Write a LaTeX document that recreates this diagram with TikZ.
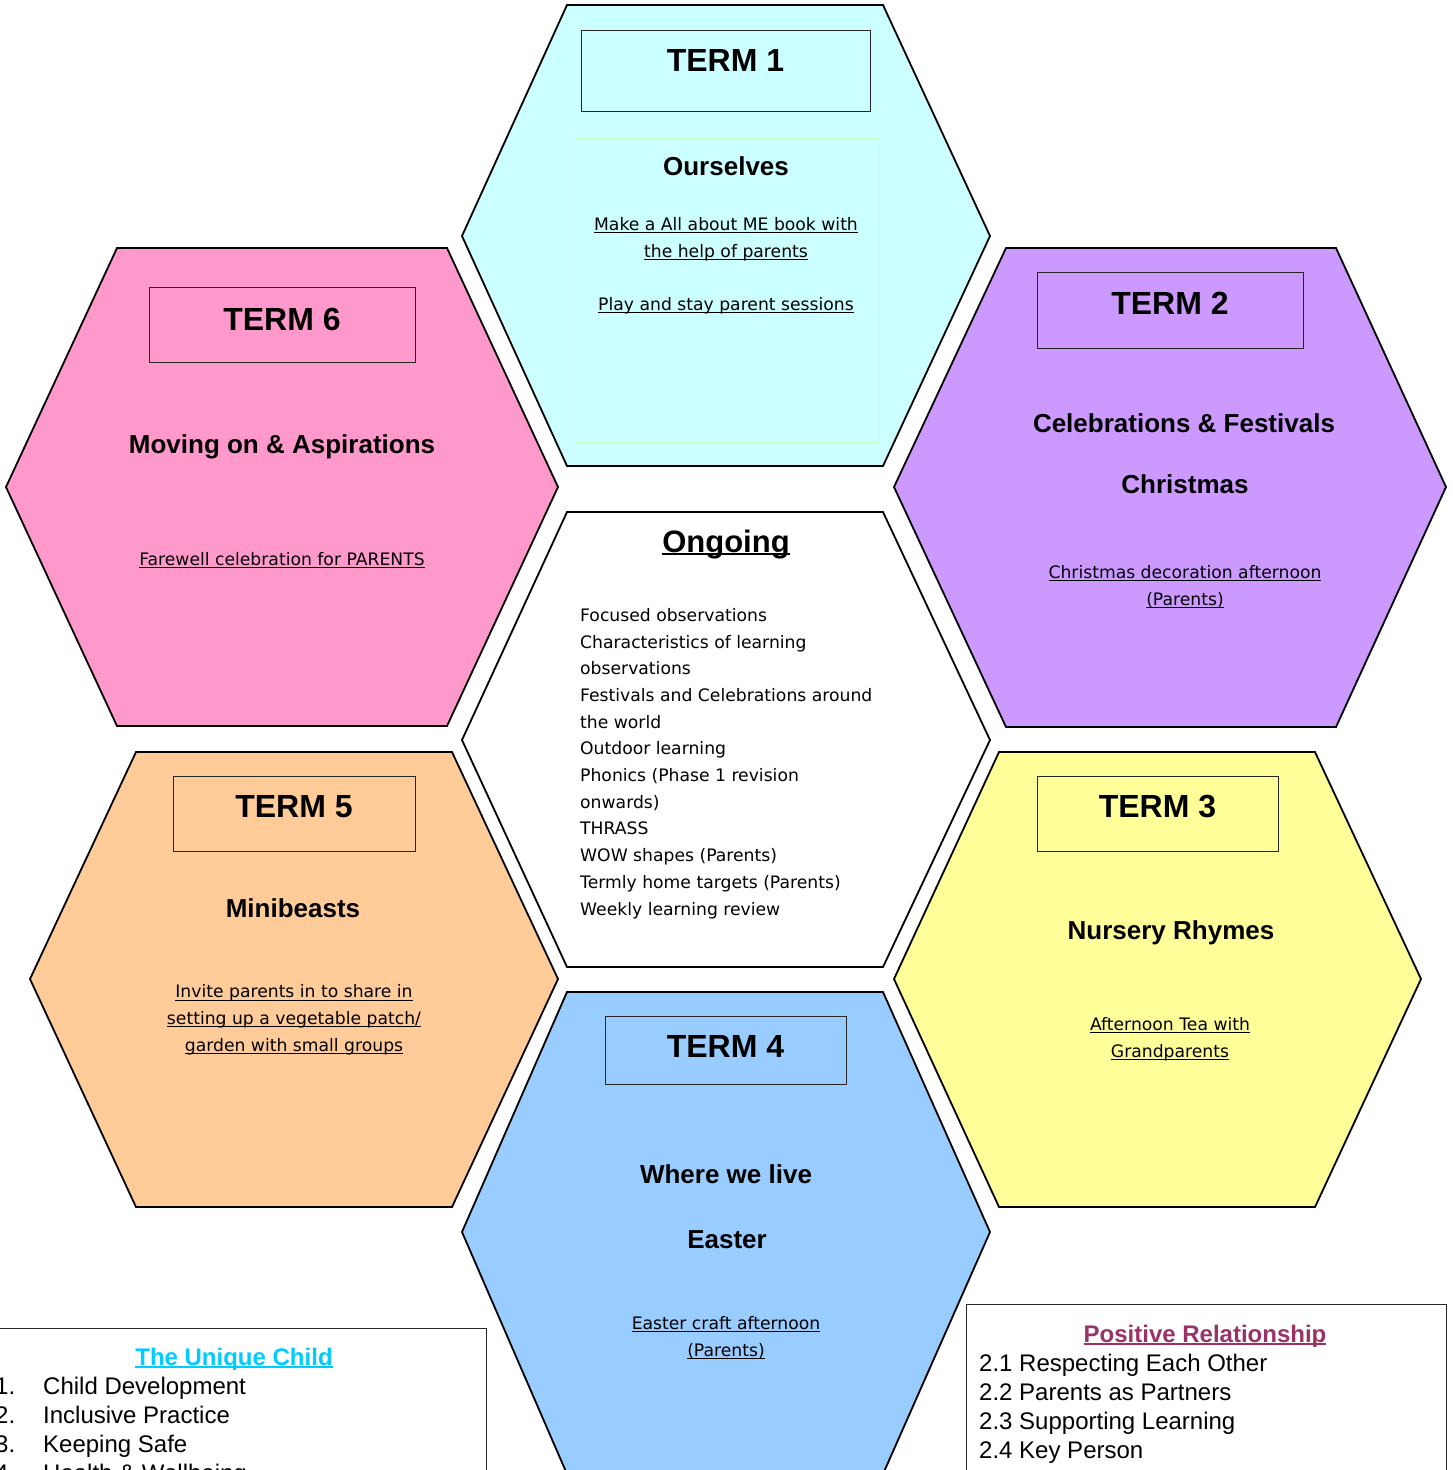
\documentclass[tikz,border=0pt]{standalone}
\usepackage{fontspec}
\setmainfont{Liberation Sans}
\newfontfamily\comicfont{DejaVu Sans}
\usetikzlibrary{positioning}
\definecolor{termone}{HTML}{CCFFFF}
\definecolor{termtwo}{HTML}{CC99FF}
\definecolor{termthree}{HTML}{FFFF99}
\definecolor{termfour}{HTML}{99CCFF}
\definecolor{termfive}{HTML}{FFCC99}
\definecolor{termsix}{HTML}{FF99CC}
\definecolor{innergreen}{HTML}{CCFFCC}
\definecolor{uniqueblue}{HTML}{00CCFF}
\definecolor{relplum}{HTML}{993366}
% underlined text, rule just under the baseline
\newcommand{\undl}[2][1pt]{\setbox0=\hbox{#2}\rlap{\rule[-3pt]{\wd0}{#1}}\box0}
\tikzset{
  hexa/.style={draw=black, line width=1.8pt, line join=miter},
  termbox/.style={draw=black!85, line width=1pt, inner sep=0pt},
  termlbl/.style={font=\fontsize{32}{36}\selectfont\bfseries, anchor=base, inner sep=0pt},
  topic/.style={font=\fontsize{26}{30}\selectfont\bfseries, anchor=base, inner sep=0pt},
  event/.style={font=\comicfont\fontsize{17.2}{26.7}\selectfont, anchor=base, align=center, inner sep=0pt},
  panel/.style={draw=black!85, line width=1pt},
  keytitle/.style={font=\fontsize{24}{28}\selectfont\bfseries, anchor=base, inner sep=0pt},
  keylist/.style={font=\fontsize{24}{28.8}\selectfont, anchor=base west, align=left, inner sep=0pt}
}
\begin{document}
\begin{tikzpicture}[x=1pt,y=-1pt]
\useasboundingbox (0,0) rectangle (1452,1470);
\fill[white] (0,0) rectangle (1452,1470);
% the seven cells
\draw[hexa, fill=termone] (567,5) -- (883,5) -- (990,236) -- (883,466) -- (567,466) -- (462,236) -- cycle;
\draw[hexa, fill=white] (567,512) -- (883,512) -- (990,740) -- (883,967) -- (567,967) -- (462,740) -- cycle;
\draw[hexa, fill=termfour] (567,992) -- (883,992) -- (990,1232) -- (883,1474) -- (567,1474) -- (462,1232) -- cycle;
\draw[hexa, fill=termsix] (117,248) -- (447,248) -- (558,487) -- (447,726) -- (117,726) -- (6,487) -- cycle;
\draw[hexa, fill=termtwo] (1006,248) -- (1336,248) -- (1446,487) -- (1336,727) -- (1006,727) -- (894,487) -- cycle;
\draw[hexa, fill=termfive] (136,752) -- (452,752) -- (558,979) -- (452,1207) -- (136,1207) -- (30,979) -- cycle;
\draw[hexa, fill=termthree] (999,752) -- (1315,752) -- (1421,979) -- (1315,1207) -- (999,1207) -- (894,979) -- cycle;
\draw[draw=innergreen, line width=1pt] (573,138) rectangle (879,442);

% term boxes
\node[termbox, minimum width=289pt, minimum height=81pt] (t1box) at (725.5,70.5) {};
\node[termbox, minimum width=266pt, minimum height=75pt] (t6box) at (282,324.5) {};
\node[termbox, minimum width=266pt, minimum height=76pt] (t2box) at (1170,310) {};
\node[termbox, minimum width=242pt, minimum height=75pt] (t5box) at (294,813.5) {};
\node[termbox, minimum width=241pt, minimum height=75pt] (t3box) at (1157.5,813.5) {};
\node[termbox, minimum width=241pt, minimum height=68pt] (t4box) at (725.5,1050) {};
\node[termlbl] (t1) at ([yshift=-42pt]t1box.north) {TERM 1};
\node[termlbl] (t6) at ([yshift=-44pt]t6box.north) {TERM 6};
\node[termlbl] (t2) at ([yshift=-43pt]t2box.north) {TERM 2};
\node[termlbl] (t5) at ([yshift=-42pt]t5box.north) {TERM 5};
\node[termlbl] (t3) at ([yshift=-42pt]t3box.north) {TERM 3};
\node[termlbl] (t4) at ([yshift=-42pt]t4box.north) {TERM 4};

% topics
\node[topic] (ourselves) at (726,175) {Ourselves};
\node[topic] (moving) at (282,453) {Moving on \& Aspirations};
\node[topic] (celebr) at (1184,432) {Celebrations \& Festivals};
\node[topic] (xmas) at (1185,493) {Christmas};
\node[topic] (minib) at (293,917) {Minibeasts};
\node[topic] (rhymes) at (1171,939) {Nursery Rhymes};
\node[topic] (wherelive) at (726,1183) {Where we live};
\node[topic] (easter) at (727,1248) {Easter};

% parent events (base = last line)
\node[event] (aboutme) at (726,257) {\undl{Make a All about ME book with}\\\undl{the help of parents}};
\node[event] (playstay) at (726,310) {\undl{Play and stay parent sessions}};
\node[event] (farewell) at (282,565) {\undl{Farewell celebration for PARENTS}};
\node[event] (decor) at (1185,605) {\undl{Christmas decoration afternoon}\\\undl{(Parents)}};
\node[event] (veg) at (294,1051) {\undl{Invite parents in to share in}\\\undl{setting up a vegetable patch/}\\\undl{garden with small groups}};
\node[event] (tea) at (1170,1057) {\undl{Afternoon Tea with}\\\undl{Grandparents}};
\node[event] (craft) at (726,1356) {\undl{Easter craft afternoon}\\\undl{(Parents)}};

% ongoing
\node[font=\fontsize{31}{34}\selectfont\bfseries, anchor=base, inner sep=0pt] (ongoing) at (726,552) {\undl[2pt]{Ongoing}};
\node[event, align=left, anchor=base west] (onlist) at (580,915) {Focused observations\\Characteristics of learning\\observations\\Festivals and Celebrations around\\the world\\Outdoor learning\\Phonics (Phase 1 revision\\onwards)\\THRASS\\WOW shapes (Parents)\\Termly home targets (Parents)\\Weekly learning review};

% key panels
\draw[panel] (-10,1328) rectangle (486,1490);
\draw[panel] (966,1304) rectangle (1446,1490);
\node[keytitle, text=uniqueblue] (uctitle) at (234,1365) {\undl[2pt]{The Unique Child}};
\node[keylist] (uclist) at (-5,1481) {\makebox[48pt][l]{1.}Child Development\\\makebox[48pt][l]{2.}Inclusive Practice\\\makebox[48pt][l]{3.}Keeping Safe\\\makebox[48pt][l]{4.}Health \& Wellbeing};
\node[keytitle, text=relplum] (prtitle) at (1205,1342) {\undl[2pt]{Positive Relationship}};
\node[keylist] (prlist) at (979,1458) {2.1 Respecting Each Other\\2.2 Parents as Partners\\2.3 Supporting Learning\\2.4 Key Person};
\end{tikzpicture}
\end{document}
